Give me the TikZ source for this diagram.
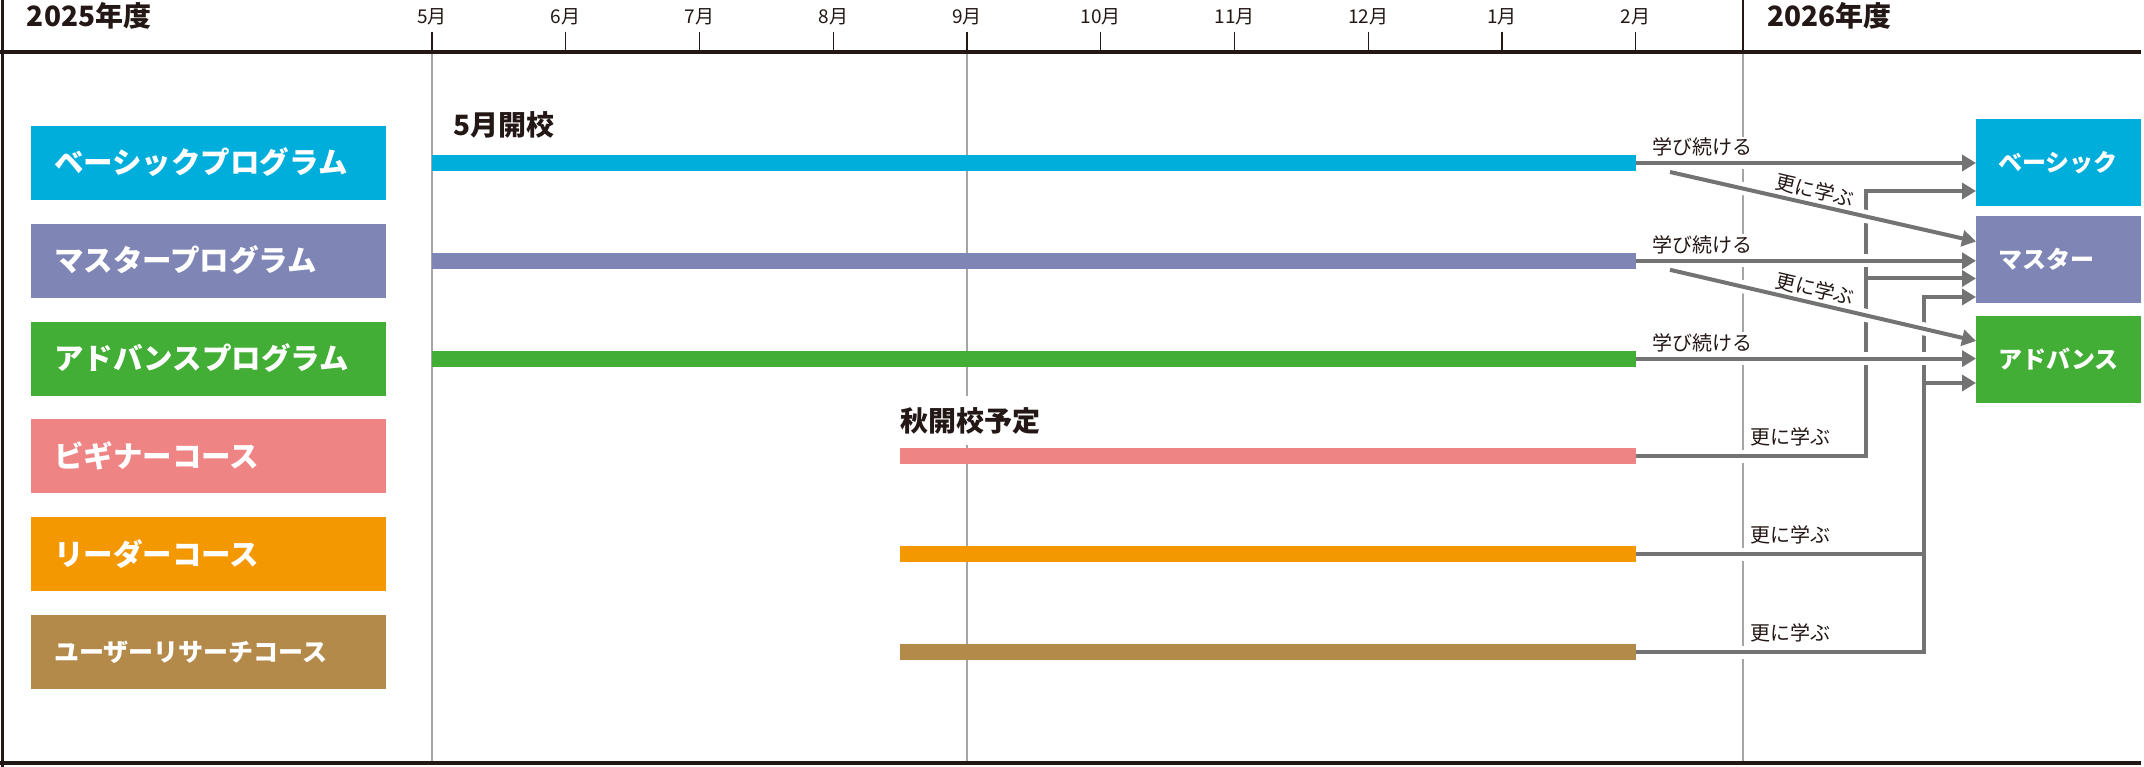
\documentclass[tikz,border=0pt]{standalone}
\usepackage{fontspec}
\setmainfont{Noto Sans CJK JP}
\usetikzlibrary{arrows.meta}
\definecolor{ink}{RGB}{35,24,21}
\definecolor{gridgray}{RGB}{165,165,165}
\definecolor{conngray}{RGB}{115,115,115}
\definecolor{cBasic}{RGB}{0,174,219}
\definecolor{cMaster}{RGB}{127,134,181}
\definecolor{cAdv}{RGB}{67,174,54}
\definecolor{cBeg}{RGB}{238,133,132}
\definecolor{cLead}{RGB}{243,152,0}
\definecolor{cUser}{RGB}{179,138,74}
\begin{document}
\begin{tikzpicture}[x=1pt,y=-1pt,
  every node/.style={inner sep=0pt, outer sep=0pt},
  gridline/.style={draw=gridgray, line width=1.2pt},
  tickmark/.style={draw=ink, line width=1.3pt},
  rule/.style={draw=ink, line width=3.6pt},
  monthlbl/.style={text=ink, font=\fontsize{19}{20}\selectfont, anchor=base},
  yearlbl/.style={text=ink, font=\bfseries\fontsize{28}{30}\selectfont, anchor=base west},
  headlbl/.style={text=ink, font=\bfseries\fontsize{28}{30}\selectfont, anchor=base west},
  barnode/.style={rectangle, minimum height=16pt, anchor=west},
  lbox/.style={rectangle, minimum width=355pt, minimum height=74pt, anchor=west},
  rbox/.style={rectangle, minimum width=165pt, minimum height=87pt, anchor=west},
  ltext/.style={text=white, font=\bfseries\fontsize{29.5}{30}\selectfont, anchor=base west},
  rtext/.style={text=white, font=\bfseries\fontsize{24}{26}\selectfont, anchor=base west},
  clbl/.style={text=ink, font=\fontsize{20}{22}\selectfont},
  cline/.style={draw=conngray, line width=4pt},
  carrow/.style={cline, -{Triangle[length=14pt, width=16pt]}},
  halo/.style={preaction={draw=white, line width=13pt, arrows=-, shorten >=2pt}},
]
\useasboundingbox (0,0) rectangle (2144,767);

% grid lines
\draw[gridline] (432,52) -- (432,763);
\draw[gridline] (967,52) -- (967,763);
\draw[gridline] (1743,52) -- (1743,763);
\draw[ink, line width=2pt] (1743,0) -- (1743,52);

% frame
\draw[rule] (0,52) -- (2141,52);
\draw[rule] (0,763) -- (2141,763);
\draw[ink, line width=2.6pt] (2.5,0) -- (2.5,767);

% months
\foreach \m [count=\i from 0] in {5,6,7,8,9,10,11,12,1,2}{
  \draw[tickmark] ({432+133.75*\i},32) -- ({432+133.75*\i},52);
  \node[monthlbl] (mon\i) at ({432+133.75*\i},24) {\m{}月};
}

% year labels
\node[yearlbl] (y2025) at (27,27) {2025年度};
\node[yearlbl] (y2026) at (1767,27) {2026年度};

% bars
\node[barnode, fill=cBasic, minimum width=1204pt] (bBasic) at (432,163) {};
\node[barnode, fill=cMaster, minimum width=1204pt] (bMaster) at (432,260.8) {};
\node[barnode, fill=cAdv, minimum width=1204pt] (bAdv) at (432,358.6) {};
\node[barnode, fill=cBeg, minimum width=736pt] (bBeg) at (900,456.4) {};
\node[barnode, fill=cLead, minimum width=736pt] (bLead) at (900,554.2) {};
\node[barnode, fill=cUser, minimum width=736pt] (bUser) at (900,652) {};

% phase labels
\node[headlbl] (open5) at (453,136) {5月開校};
\node[headlbl, fill=white, inner ysep=11pt] (openAut) at (900,431) {秋開校予定};

% left boxes
\node[lbox, fill=cBasic] (lBasic) at (31,163) {};
\node[lbox, fill=cMaster] (lMaster) at (31,260.8) {};
\node[lbox, fill=cAdv] (lAdv) at (31,358.6) {};
\node[lbox, fill=cBeg] (lBeg) at (31,456.4) {};
\node[lbox, fill=cLead] (lLead) at (31,554.2) {};
\node[lbox, fill=cUser] (lUser) at (31,652) {};
\node[ltext] (tlBasic) at (54,174) {ベーシックプログラム};
\node[ltext] (tlMaster) at (54,271.8) {マスタープログラム};
\node[ltext] (tlAdv) at (54,369.6) {アドバンスプログラム};
\node[ltext] (tlBeg) at (54,467.4) {ビギナーコース};
\node[ltext] (tlLead) at (54,565.2) {リーダーコース};
\node[ltext, font=\bfseries\fontsize{25}{26}\selectfont] (tlUser) at (54,661.5) {ユーザーリサーチコース};

% right boxes
\node[rbox, fill=cBasic] (rBasic) at (1976,162.5) {};
\node[rbox, fill=cMaster] (rMaster) at (1976,260) {};
\node[rbox, fill=cAdv] (rAdv) at (1976,359) {};
\node[rtext] (trBasic) at (1998,171.5) {ベーシック};
\node[rtext] (trMaster) at (1998,269) {マスター};
\node[rtext] (trAdv) at (1998,368) {アドバンス};

% junction points
\coordinate (aTop) at (1866,191);
\coordinate (aMid) at (1866,278.5);
\coordinate (aBot) at (1866,456.4);
\coordinate (bTop) at (1924,297);
\coordinate (bMid) at (1924,383);
\coordinate (bJoin) at (1924,554.2);
\coordinate (bBot) at (1924,652);

% feeders from the courses
\draw[carrow, halo] (bBeg.east) -- node[clbl, pos=0.496, anchor=base west, yshift=12pt] (lblBeg) {更に学ぶ} (aBot) -- (aTop) -- (aTop -| rBasic.west);
\draw[carrow, halo] (bUser.east) -- node[clbl, pos=0.396, anchor=base west, yshift=12pt] (lblUser) {更に学ぶ} (bBot) -- (bTop) -- (bTop -| rMaster.west);
\draw[cline, preaction={draw=white, line width=13pt, shorten >=9pt}] (bLead.east) -- node[clbl, pos=0.396, anchor=base west, yshift=12pt] (lblLead) {更に学ぶ} (bJoin);
\draw[carrow] (aMid) -- (aMid -| rMaster.west);
\draw[carrow] (bMid) -- (bMid -| rAdv.west);

% continue arrows
\draw[carrow, halo] (bBasic.east) -- node[clbl, pos=0, anchor=base west, xshift=14.5pt, yshift=8pt, fill=white, inner sep=1.5pt] (lblC1) {学び続ける} (bBasic.east -| rBasic.west);
\draw[carrow, halo] (bMaster.east) -- node[clbl, pos=0, anchor=base west, xshift=14.5pt, yshift=8pt, fill=white, inner sep=1.5pt] (lblC2) {学び続ける} (bMaster.east -| rMaster.west);
\draw[carrow, halo] (bAdv.east) -- node[clbl, pos=0, anchor=base west, xshift=14.5pt, yshift=8pt, fill=white, inner sep=1.5pt] (lblC3) {学び続ける} (bAdv.east -| rAdv.west);

% step-up diagonals
\draw[carrow, halo] ([shift={(34,9)}]bBasic.east) -- node[clbl, pos=0.464, sloped, above=5pt] (lblD1) {更に学ぶ} ([shift={(0,-18.5)}]rMaster.west);
\draw[carrow, halo] ([shift={(34,9)}]bMaster.east) -- node[clbl, pos=0.464, sloped, above=5pt] (lblD2) {更に学ぶ} ([shift={(0,-18)}]rAdv.west);
\end{tikzpicture}
\end{document}
